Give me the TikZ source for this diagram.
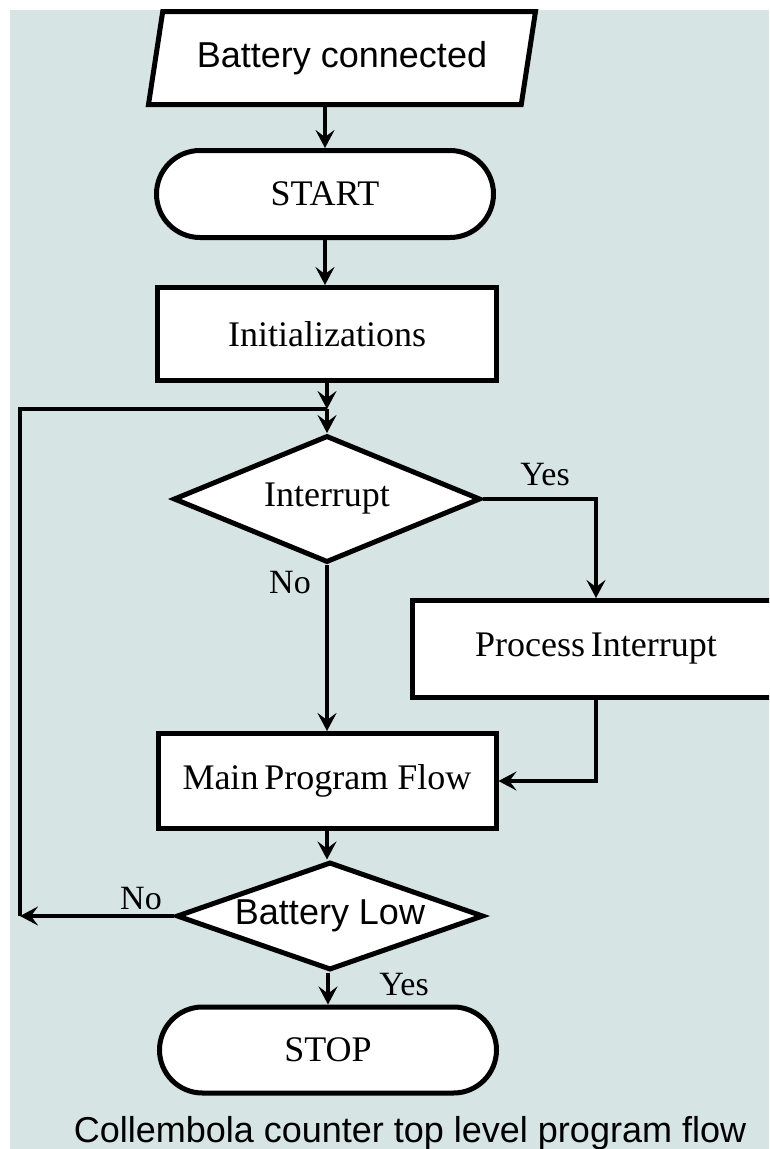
\documentclass[tikz,border=0pt]{standalone}
\usepackage{fontspec}
\setmainfont{Liberation Serif}
\setsansfont{Liberation Sans}
\usetikzlibrary{shapes.geometric,shapes.misc,arrows.meta}
\definecolor{panel}{RGB}{214,228,228}
\begin{document}
\begin{tikzpicture}[x=1pt,y=-1pt,
  every node/.style = {font=\fontsize{36}{42}\selectfont},
  box/.style      = {shape=rectangle, draw, line width=5pt, fill=white, inner sep=0pt},
  terminal/.style = {shape=rounded rectangle, draw, line width=5pt, fill=white, inner sep=0pt},
  decision/.style = {shape=diamond, draw, line width=5pt, fill=white, inner sep=0pt},
  inout/.style    = {shape=trapezium, trapezium left angle=67, trapezium right angle=113,
    trapezium stretches body, draw, line width=5pt, fill=white, inner sep=0pt},
  flow/.style     = {line width=4pt, -{Stealth[length=18pt,width=19pt,inset=7pt]}},
  answer/.style   = {font=\fontsize{34}{40}\selectfont}]
\clip (0,0) rectangle (769,1149);
\fill[panel] (10,10) rectangle (769,1149);
\node[inout, minimum width=387pt, minimum height=93pt, font=\sffamily\fontsize{36}{42}\selectfont]
  (conn) at (342,58) {Battery connected};
\node[terminal, minimum width=337pt, minimum height=87pt] (start) at (325,194) {START};
\node[box, minimum width=339pt, minimum height=93pt] (init) at (327,334) {Initializations};
\coordinate (join) at (327,409);
\node[decision, aspect=2.42, minimum width=307pt, minimum height=127pt] (intr) at (327,499) {Interrupt};
\node[box, minimum width=368pt, minimum height=97pt] (proc) at (596,649) {Process\,Interrupt};
\node[box, minimum width=338pt, minimum height=95pt] (main) at (327,781) {Main\,Program Flow};
\node[decision, aspect=2.84, minimum width=307pt, minimum height=108pt,
  font=\sffamily\fontsize{36}{42}\selectfont] (low) at (330,916) {Battery Low};
\node[terminal, minimum width=337pt, minimum height=86pt] (stop) at (328,1050) {STOP};
\coordinate (back) at (20,916);
\node[answer] (yes1) at (545,475) {Yes};
\node[answer] (no1) at (290,583) {No};
\node[answer] (no2) at (141,899) {No};
\node[answer] (yes2) at (404,985) {Yes};
\node[font=\sffamily\fontsize{36}{42}\selectfont, anchor=base] (caption) at (410,1142)
  {Collembola counter top level program flow};
\draw[flow] (start.north |- conn.south) -- (start.north);
\draw[flow] (start.south) -- (init.north -| start.south);
\draw[flow] (init.south) -- (join);
\draw[flow] (join) -- (intr.north);
\draw[flow] (intr.east) -| (proc.north);
\draw[flow] (intr.south) -- (main.north);
\draw[flow] (proc.south) |- (main.east);
\draw[flow] (main.south) -- (low.north -| main.south);
\draw[flow] (low.south -| stop.north) -- (stop.north);
\draw[flow] (low.west) -- (back);
\draw[line width=4pt] (back) -- (back |- join) -- (join);
\end{tikzpicture}
\end{document}
